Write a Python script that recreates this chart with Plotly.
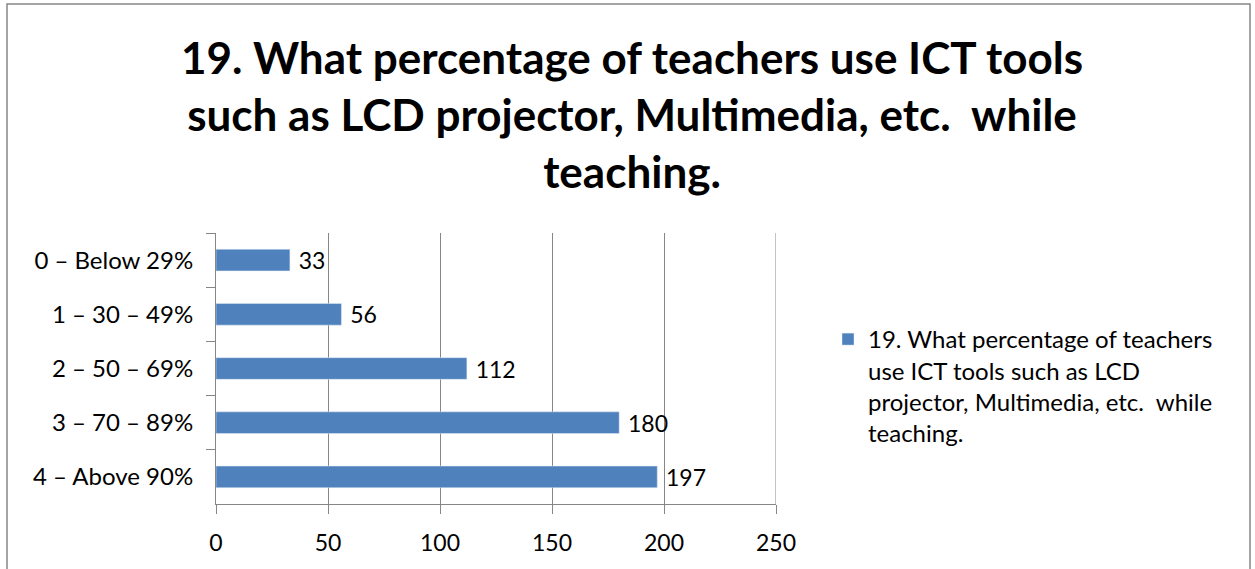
import plotly.graph_objects as go

# data
categories = ["0 – Below 29%", "1 – 30 – 49%", "2 – 50 – 69%", "3 – 70 – 89%", "4 – Above 90%"]
counts = [33, 56, 112, 180, 197]
series_name = "19. What percentage of teachers<br>use ICT tools such as LCD<br>projector, Multimedia, etc.  while<br>teaching."
title_text = "19. What percentage of teachers use ICT tools<br>such as LCD projector, Multimedia, etc.  while<br>teaching."
x_ticks = [0, 50, 100, 150, 200, 250]

FONT = "Lato"
GRID = "#868686"

fig = go.Figure(go.Bar(
    y=categories,
    x=counts,
    orientation="h",
    name=series_name,
    marker=dict(color="#4F81BD"),
    text=counts,
    texttemplate="\u2009\u2009%{x}",
    textposition="outside",
    constraintext="none",
    textfont=dict(size=23, color="black", family=FONT),
    cliponaxis=False,
))

fig.update_layout(
    width=1255,
    height=569,
    margin=dict(l=216, r=479, t=233, b=65),
    paper_bgcolor="white",
    plot_bgcolor="white",
    font=dict(family=FONT, color="black"),
    bargap=0.6,
    showlegend=True,
    legend=dict(
        x=(828 - 216) / 560,
        y=(504 - 317) / 271,
        xanchor="left",
        yanchor="top",
        valign="top",
        font=dict(size=24, family=FONT, color="black"),
        bgcolor="rgba(0,0,0,0)",
    ),
    xaxis=dict(
        range=[0, 250],
        tickvals=x_ticks,
        showgrid=True,
        gridcolor=GRID,
        gridwidth=1,
        showline=True,
        linecolor=GRID,
        ticks="outside",
        ticklen=9,
        tickcolor=GRID,
        tickfont=dict(size=23),
        ticklabelstandoff=9,
        zeroline=False,
        fixedrange=True,
    ),
    yaxis=dict(
        autorange="reversed",
        showline=True,
        linecolor=GRID,
        ticks="outside",
        tickson="boundaries",
        ticklen=9,
        tickcolor=GRID,
        tickfont=dict(size=24),
        ticklabelstandoff=17,
        showgrid=False,
        fixedrange=True,
    ),
    annotations=[
        dict(text=title_text, xref="paper", yref="paper",
             x=(632 - 216) / 560, y=(504 - 114) / 271,
             xanchor="center", yanchor="middle", align="center", showarrow=False,
             font=dict(size=44, family=FONT, color="black", weight="bold")),
    ],
    shapes=[
        # chart border
        dict(type="rect", xref="paper", yref="paper",
             x0=(7 - 216) / 560, x1=(1250 - 216) / 560,
             y0=(504 - 600) / 271, y1=(504 - 4) / 271,
             line=dict(color=GRID, width=1.5), layer="below"),
        # right gridline at 250
        dict(type="line", xref="x", yref="paper", x0=250, x1=250, y0=0, y1=1,
             line=dict(color=GRID, width=1)),
    ],
)

fig.write_html("out.html", config={"displayModeBar": False},
               post_script="document.body.style.margin='0';")
